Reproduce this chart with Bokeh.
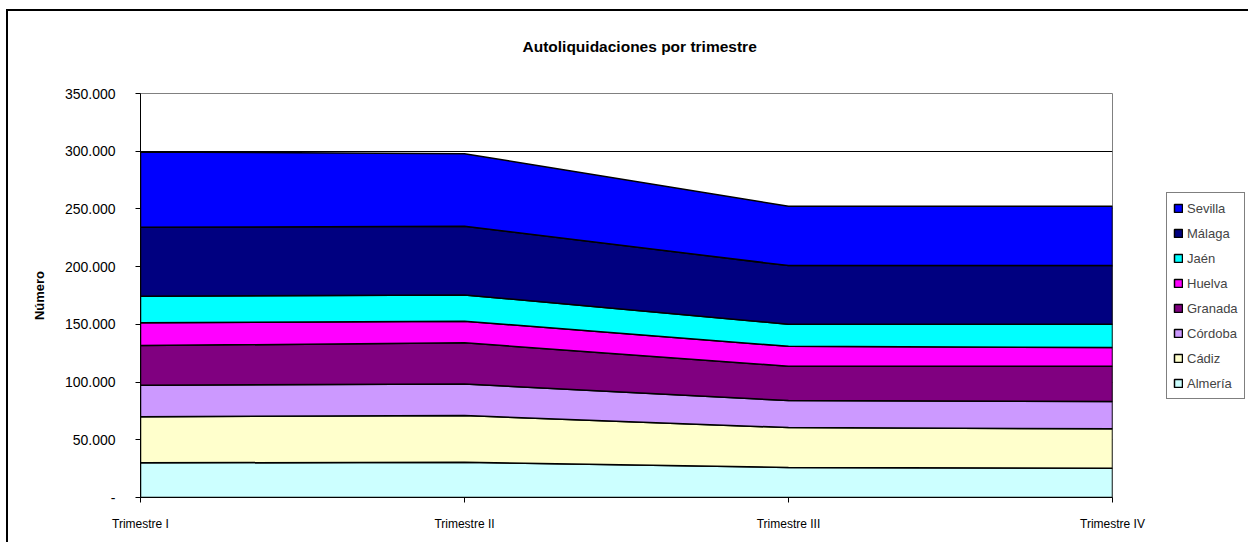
from bokeh.plotting import figure
from bokeh.models import Range1d, FixedTicker, Legend, LegendItem
from bokeh.embed import file_html
from bokeh.resources import INLINE

quarters = ["Trimestre I", "Trimestre II", "Trimestre III", "Trimestre IV"]
provinces = ["Almería", "Cádiz", "Córdoba", "Granada", "Huelva", "Jaén", "Málaga", "Sevilla"]
colors = ["#CCFFFF", "#FFFFCC", "#CC99FF", "#800080", "#FF00FF", "#00FFFF", "#000080", "#0000FF"]

almeria = [30000, 30600, 26000, 25400]
cadiz = [39900, 40400, 34600, 34100]
cordoba = [27400, 27400, 23400, 23600]
granada = [34300, 35600, 29700, 30600]
huelva = [19700, 18700, 17300, 16200]
jaen = [23000, 22800, 19100, 20200]
malaga = [59800, 59500, 50800, 50800]
sevilla = [65300, 62900, 51400, 51400]
series = [almeria, cadiz, cordoba, granada, huelva, jaen, malaga, sevilla]

y_ticks = [0, 50000, 100000, 150000, 200000, 250000, 300000, 350000]
y_tick_labels = ["-", "50.000", "100.000", "150.000", "200.000", "250.000", "300.000", "350.000"]

FONT = "Liberation Sans"

p = figure(frame_width=972, frame_height=404, output_backend="svg", toolbar_location=None,
           x_range=Range1d(0, 3), y_range=Range1d(0, 350000),
           min_border_left=132, min_border_right=126, min_border_top=82, min_border_bottom=45)
p.styles = {"border-left": "2px solid black", "border-top": "2px solid black",
            "margin-left": "6px", "margin-top": "9px"}

xs = list(range(len(quarters)))
base = [0.0] * len(quarters)
renderers = []
for name, vals, col in zip(provinces, series, colors):
    top = [b + v for b, v in zip(base, vals)]
    px = xs + xs[::-1]
    py = top + base[::-1]
    r = p.patch(px, py, fill_color=col, line_color="black", line_width=1.5)
    renderers.append((name, r))
    base = top

p.title.text = "Autoliquidaciones por trimestre\n"
p.title.align = "left"
p.title.text_font = FONT
p.title.text_font_size = "15.5px"
p.title.text_font_style = "bold"
p.title.text_color = "black"
p.title.offset = 382
p.title.standoff = 44

p.outline_line_color = "#808080"
p.outline_line_width = 1

p.xgrid.visible = False
p.ygrid.ticker = FixedTicker(ticks=y_ticks)
p.ygrid.grid_line_color = "black"
p.ygrid.grid_line_width = 1

p.xaxis.ticker = FixedTicker(ticks=xs)
p.xaxis.major_label_overrides = {i: q for i, q in enumerate(quarters)}
p.xaxis.minor_tick_line_color = None
p.xaxis.major_tick_in = 0
p.xaxis.major_tick_out = 5
p.xaxis.major_label_standoff = 14
p.xaxis.major_label_text_font = FONT
p.xaxis.major_label_text_font_size = "12px"
p.xaxis.major_label_text_color = "black"
p.xaxis.axis_line_color = "black"

p.yaxis.ticker = FixedTicker(ticks=y_ticks)
p.yaxis.major_label_overrides = {t: l for t, l in zip(y_ticks, y_tick_labels)}
p.yaxis.minor_tick_line_color = None
p.yaxis.major_tick_in = 0
p.yaxis.major_tick_out = 5
p.yaxis.major_label_standoff = 20
p.yaxis.major_label_text_font = FONT
p.yaxis.major_label_text_font_size = "14px"
p.yaxis.major_label_text_color = "black"
p.yaxis.axis_line_color = "black"
p.yaxis.axis_label = "Número"
p.yaxis.axis_label_text_font = FONT
p.yaxis.axis_label_text_font_size = "13px"
p.yaxis.axis_label_text_font_style = "bold"
p.yaxis.axis_label_text_color = "black"
p.yaxis.axis_label_standoff = 15

items = [LegendItem(label=n, renderers=[r]) for n, r in renderers[::-1]]
legend = Legend(items=items, location=(54, 98), border_line_color="black", border_line_width=1,
                label_text_font=FONT, label_text_font_size="13px", glyph_width=10, glyph_height=10,
                label_height=18, spacing=7, padding=6, margin=0, label_standoff=4,
                background_fill_alpha=1)
p.add_layout(legend, "right")

open("out.html", "w").write(file_html(p, INLINE))
